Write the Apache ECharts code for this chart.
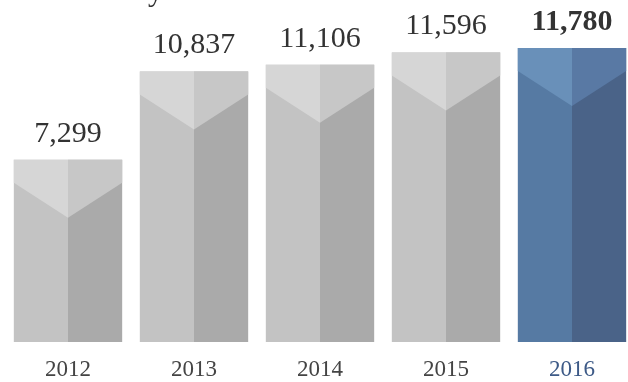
<!DOCTYPE html>
<html>
<head>
<meta charset="utf-8">
<script src="https://cdn.jsdelivr.net/npm/echarts@6/dist/echarts.min.js"></script>
<style>
  html, body { margin: 0; padding: 0; background: #ffffff; overflow: hidden; }
  #chart { width: 636px; height: 382px; }
</style>
</head>
<body>
<div id="chart"></div>
<script>
// Yearly totals
const years = ['2012', '2013', '2014', '2015', '2016'];
const totals = [7299, 10837, 11106, 11596, 11780];
const highlightYear = '2016';

// Face colours of the prism-like bars
const greyFaces = { leftTop: '#d6d6d6', rightTop: '#c7c7c7', left: '#c3c3c3', right: '#aaaaaa' };
const blueFaces = { leftTop: '#6990b9', rightTop: '#5979a4', left: '#567aa3', right: '#4a6388' };

const chart = echarts.init(document.getElementById('chart'), null, { renderer: 'canvas' });

function fmt(v) { return v.toLocaleString('en-US'); }

function renderPrism(params, api) {
  const idx = api.value(0);
  const val = api.value(1);
  const top = api.coord([idx, val]);
  const base = api.coord([idx, 0]);
  const w = api.size([1, 0])[0] * 0.86;
  const cx = top[0];
  const x0 = cx - w / 2, x1 = cx + w / 2;
  const yT = top[1], yB = base[1];
  const notch = 23, apex = 58;
  const isHi = years[idx] === highlightYear;
  const c = isHi ? blueFaces : greyFaces;
  return {
    type: 'group',
    children: [
      { type: 'rect', shape: { x: x0, y: yT, width: cx - x0, height: yB - yT }, style: { fill: c.left } },
      { type: 'rect', shape: { x: cx, y: yT, width: x1 - cx, height: yB - yT }, style: { fill: c.right } },
      { type: 'polygon', shape: { points: [[x0, yT], [cx, yT], [cx, yT + apex], [x0, yT + notch]] }, style: { fill: c.leftTop } },
      { type: 'polygon', shape: { points: [[cx, yT], [x1, yT], [x1, yT + notch], [cx, yT + apex]] }, style: { fill: c.rightTop } },
      {
        type: 'text',
        style: {
          text: fmt(val), x: cx, y: yT - 11,
          align: 'center', verticalAlign: 'bottom',
          fontFamily: '"Liberation Serif", serif',
          fontSize: 30,
          fontWeight: isHi ? 'bold' : 'normal',
          fill: '#333333'
        }
      }
    ]
  };
}

chart.setOption({
  animation: false,
  backgroundColor: '#ffffff',
  graphic: [{
    type: 'text', left: 148, top: -22,
    style: { text: 'y', fontFamily: '"Liberation Serif", serif', fontSize: 30, fill: '#333333' }
  }],
  grid: { left: 5, right: 1, top: 0, bottom: 40 },
  xAxis: {
    type: 'category',
    data: years,
    axisLine: { show: false },
    axisTick: { show: false },
    axisLabel: {
      margin: 16,
      fontFamily: '"Liberation Serif", serif',
      fontSize: 23,
      color: function (v) { return v === highlightYear ? '#3d5a87' : '#444444'; }
    }
  },
  yAxis: { type: 'value', min: 0, max: 13700, show: false, splitLine: { show: false } },
  series: [{
    type: 'custom',
    renderItem: renderPrism,
    data: totals.map((v, i) => [i, v]),
    encode: { x: 0, y: 1 }
  }]
});
</script>
</body>
</html>
